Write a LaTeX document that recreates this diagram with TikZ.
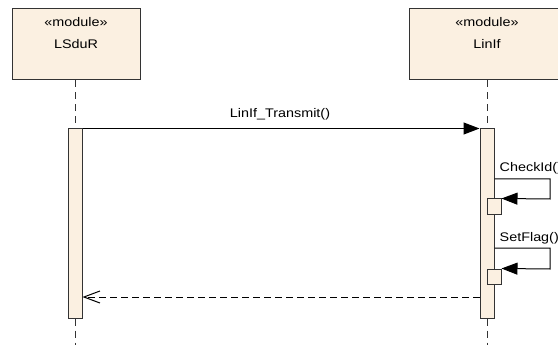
\documentclass[tikz,border=0pt]{standalone}
\usepackage{fontspec}
\setmainfont{Liberation Sans}[FakeStretch=1.15]
\usetikzlibrary{arrows.meta}
\definecolor{fillc}{HTML}{FBF0E1}
\definecolor{linec}{HTML}{333333}
\tikzset{
  head/.style={draw=linec, line width=1pt, fill=fillc, minimum height=71pt, inner sep=0pt},
  bar/.style={draw=linec, line width=1pt, fill=fillc, minimum width=14pt, inner sep=0pt},
  lifeline/.style={draw=linec, line width=1pt, dash pattern=on 7pt off 5pt},
  msg/.style={draw=black, line width=1pt, -{Triangle[length=16pt,width=12pt]}},
  ret/.style={draw=black, line width=1pt, dash pattern=on 7pt off 4pt, -{Straight Barb[length=16pt,width=12pt]}},
  lbl/.style={font=\fontsize{12.5pt}{14pt}\selectfont, inner sep=0pt, text=black}
}
\begin{document}
\begin{tikzpicture}[x=1pt,y=-1pt]
\clip (0,0) rectangle (558,345);
\fill[white] (0,0) rectangle (558,345);
% heads
\node[head, minimum width=128pt] (hL) at (76,44.5) {};
\node[head, minimum width=156pt] (hR) at (487,44.5) {};
\node[lbl, anchor=base] (sL) at (76,26.5) {«module»};
\node[lbl, anchor=base] (nL) at (76,48.3) {LSduR};
\node[lbl, anchor=base] (sR) at (487,26.5) {«module»};
\node[lbl, anchor=base] (nR) at (487,48.3) {LinIf};
% activation bars
\node[bar, minimum height=189pt] (bL) at (75,223.5) {};
\node[bar, minimum height=189pt] (bR) at (487,223.5) {};
% lifelines
\coordinate (eL) at (75,345);
\coordinate (eR) at (487,345);
\draw[lifeline] (hL.south -| bL.north) -- (bL.north);
\draw[lifeline] (bL.south) -- (eL);
\draw[lifeline] (hR.south -| bR.north) -- (bR.north);
\draw[lifeline] (bR.south) -- (eR);
% small execution boxes
\node[bar, minimum height=16pt] (x1) at (494,207) {};
\node[bar, minimum height=15pt] (x2) at (494,276.5) {};
% message
\draw[msg] (bL.north east) -- (bR.north west);
\node[lbl, anchor=base] (mT) at (280,118) {LinIf\_Transmit()};
% self messages
\coordinate (c1a) at (bR.east |- 0,179);
\coordinate (c1b) at (550,179);
\coordinate (c1c) at (550,199);
\draw[msg] (c1a) -- (c1b) -- (c1c) -- (x1.north east);
\node[lbl, anchor=base west] (mC) at (499.5,171.5) {CheckId()};
\coordinate (c2a) at (bR.east |- 0,248);
\coordinate (c2b) at (550,248);
\coordinate (c2c) at (550,269);
\draw[msg] (c2a) -- (c2b) -- (c2c) -- (x2.north east);
\node[lbl, anchor=base west] (mS) at (499.5,241) {SetFlag()};
% return
\coordinate (r1) at (bR.west |- 0,297);
\coordinate (r2) at (bL.east |- 0,297);
\draw[ret] (r1) -- (r2);
\end{tikzpicture}
\end{document}
